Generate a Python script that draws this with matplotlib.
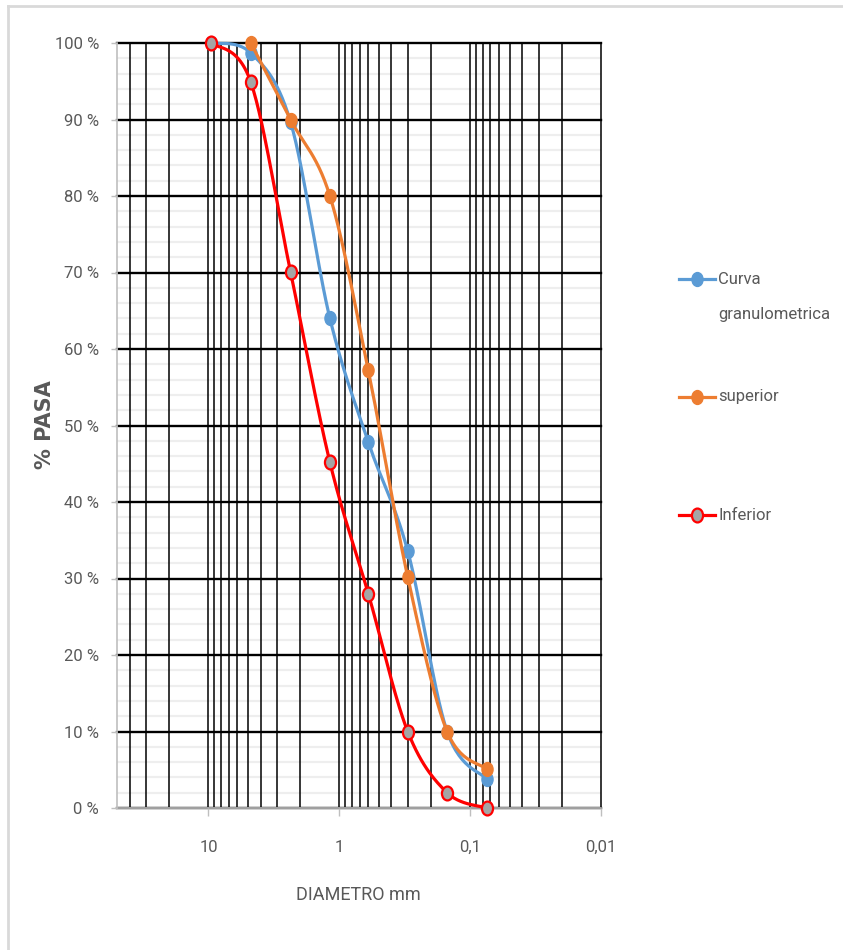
import numpy as np
import matplotlib
matplotlib.use("Agg")
import matplotlib.pyplot as plt
from matplotlib.path import Path
from matplotlib.transforms import Affine2D
from matplotlib.lines import Line2D
from matplotlib.ticker import FixedLocator, NullFormatter

# ---------------- data ----------------
sieve_mm = [9.5, 4.75, 2.36, 1.18, 0.6, 0.3, 0.15, 0.075]
curva = [100, 98.7, 89.7, 64.0, 47.8, 33.6, 10.0, 3.8]
superior = [np.nan, 100, 90, 80, 57.2, 30.2, 10.0, 5.1]
inferior = [100, 94.9, 70.1, 45.2, 28.0, 10.0, 2.0, 0.0]

series_names = ["Curva\ngranulometrica", "superior", "Inferior"]
x_major = [10, 1, 0.1, 0.01]
x_major_labels = ["10", "1", "0,1", "0,01"]
y_major = list(range(0, 101, 10))
y_major_labels = [f"{v} %" for v in y_major]
xlabel = "DIAMETRO mm"
ylabel = "% PASA"

FONT = ["Roboto", "DejaVu Sans"]
plt.rcParams["font.family"] = FONT
TXT = "#595959"
FS = 12


def smooth(xs, ys, n=30):
    """Excel-like smoothed line (Catmull-Rom Bezier) in log10(x) / y space."""
    xs = np.asarray(xs, float)
    ys = np.asarray(ys, float)
    m = ~np.isnan(ys)
    u = np.log10(xs[m])
    v = ys[m]
    P = np.column_stack([u, v])
    k = len(P)
    out = [P[0]]
    t = np.linspace(0, 1, n)[1:, None]
    for i in range(k - 1):
        p0 = P[i]
        p3 = P[i + 1]
        pm = P[i - 1] if i > 0 else P[i]
        pp = P[i + 2] if i + 2 < k else P[i + 1]
        c1 = p0 + (p3 - pm) / 6.0
        c2 = p3 - (pp - p0) / 6.0
        seg = ((1 - t) ** 3) * p0 + 3 * ((1 - t) ** 2) * t * c1 + 3 * (1 - t) * t ** 2 * c2 + t ** 3 * p3
        out.extend(seg)
    out = np.array(out)
    return 10 ** out[:, 0], out[:, 1], xs[m], ys[m]


W, H = 843, 950
fig = plt.figure(figsize=(W / 100, H / 100), dpi=100)
L, R, T, B = 117, 601, 43, 808
ax = fig.add_axes([L / W, 1 - B / H, (R - L) / W, (B - T) / H])

ax.set_xscale("log")
ax.set_xlim(50, 0.01)
ax.set_ylim(0, 100)

# ticks / grid
ax.xaxis.set_major_locator(FixedLocator(x_major))
ax.set_xticklabels(x_major_labels)
minor_x = [m * 10.0 ** e for e in range(-2, 2) for m in range(2, 10) if 0.01 < m * 10.0 ** e < 50]
ax.xaxis.set_minor_locator(FixedLocator(minor_x))
ax.xaxis.set_minor_formatter(NullFormatter())
ax.yaxis.set_major_locator(FixedLocator(y_major))
ax.set_yticklabels(y_major_labels)
ax.yaxis.set_minor_locator(FixedLocator([v for v in range(0, 101, 2) if v % 10]))

ax.grid(True, which="minor", axis="y", color="#eeeeee", lw=1.6)
ax.grid(True, which="major", axis="y", color="black", lw=1.7)
ax.grid(True, which="both", axis="x", color="black", lw=1.1)
for gl in ax.get_xgridlines() + ax.get_ygridlines():
    gl.set_clip_on(False)
ax.yaxis.set_zorder(0.5)
ax.xaxis.set_zorder(0.7)

for s in ["top", "right"]:
    ax.spines[s].set_visible(False)
for s in ["left", "bottom"]:
    ax.spines[s].set_color("#bfbfbf")
    ax.spines[s].set_linewidth(1.2)
    ax.spines[s].set_zorder(0.8)

ax.tick_params(axis="x", which="major", direction="out", length=6, width=1, color="#bfbfbf",
               labelsize=FS, labelcolor=TXT, pad=17)
ax.tick_params(axis="y", which="major", direction="out", length=4, width=1, color="#bfbfbf",
               labelsize=FS, labelcolor=TXT, pad=9)
ax.tick_params(which="minor", length=0)

# marker: slightly tall ellipse (as in reference)
ell = Path.unit_circle().transformed(Affine2D().scale(0.8, 1.0))

colors = ["#5B9BD5", "#ED7D31", "#FF0000"]
data = [curva, superior, inferior]
for i, (vals, c) in enumerate(zip(data, colors)):
    sx, sy, px, py = smooth(sieve_mm, vals)
    ax.plot(sx, sy, color=c, lw=2.3, zorder=3 + i, clip_on=False, solid_capstyle="round")
    if i < 2:
        ax.plot(px, py, ls="none", marker=ell, ms=10, mfc=c, mec=c, mew=1, zorder=3 + i, clip_on=False)
    else:
        ax.plot(px, py, ls="none", marker=ell, ms=10, mfc="#A5A5A5", mec=c, mew=1.6, zorder=3 + i, clip_on=False)

ax.set_xlabel(xlabel, fontsize=13, color=TXT)
ax.xaxis.set_label_coords((358 - L) / (R - L), -(895 - B) / (B - T))
ax.xaxis.label.set_va("center")
fig.text(45 / W, 1 - 425 / H, ylabel, rotation=90, ha="center", va="center",
         fontsize=15, fontweight="bold", color=TXT, family=["DejaVu Sans"])

# legend (manual)
leg_y = [279, 397, 515]
for i, (name, c, y) in enumerate(zip(series_names, colors, leg_y)):
    yf = 1 - y / H
    fig.add_artist(Line2D([679 / W, 715 / W], [yf, yf], color=c, lw=2.3))
    if i < 2:
        fig.add_artist(Line2D([697 / W], [yf], marker=ell, ms=10, mfc=c, mec=c, ls="none"))
    else:
        fig.add_artist(Line2D([697 / W], [yf], marker=ell, ms=10, mfc="#A5A5A5", mec=c, mew=1.6, ls="none"))
    if "\n" in name:
        a, b = name.split("\n")
        fig.text(718 / W, yf, a, ha="left", va="center", fontsize=FS, color=TXT)
        fig.text(718 / W, 1 - 315 / H, b, ha="left", va="center", fontsize=FS, color=TXT)
    else:
        fig.text(718 / W, yf, name, ha="left", va="center", fontsize=FS, color=TXT)

# outer border (top and left only, as cropped in reference)
fig.add_artist(Line2D([7.5 / W, 1], [1 - 6 / H, 1 - 6 / H], color="#d9d9d9", lw=2))
fig.add_artist(Line2D([7.5 / W, 7.5 / W], [0, 1 - 6 / H], color="#d9d9d9", lw=2))

fig.savefig("out.png", dpi=100)
